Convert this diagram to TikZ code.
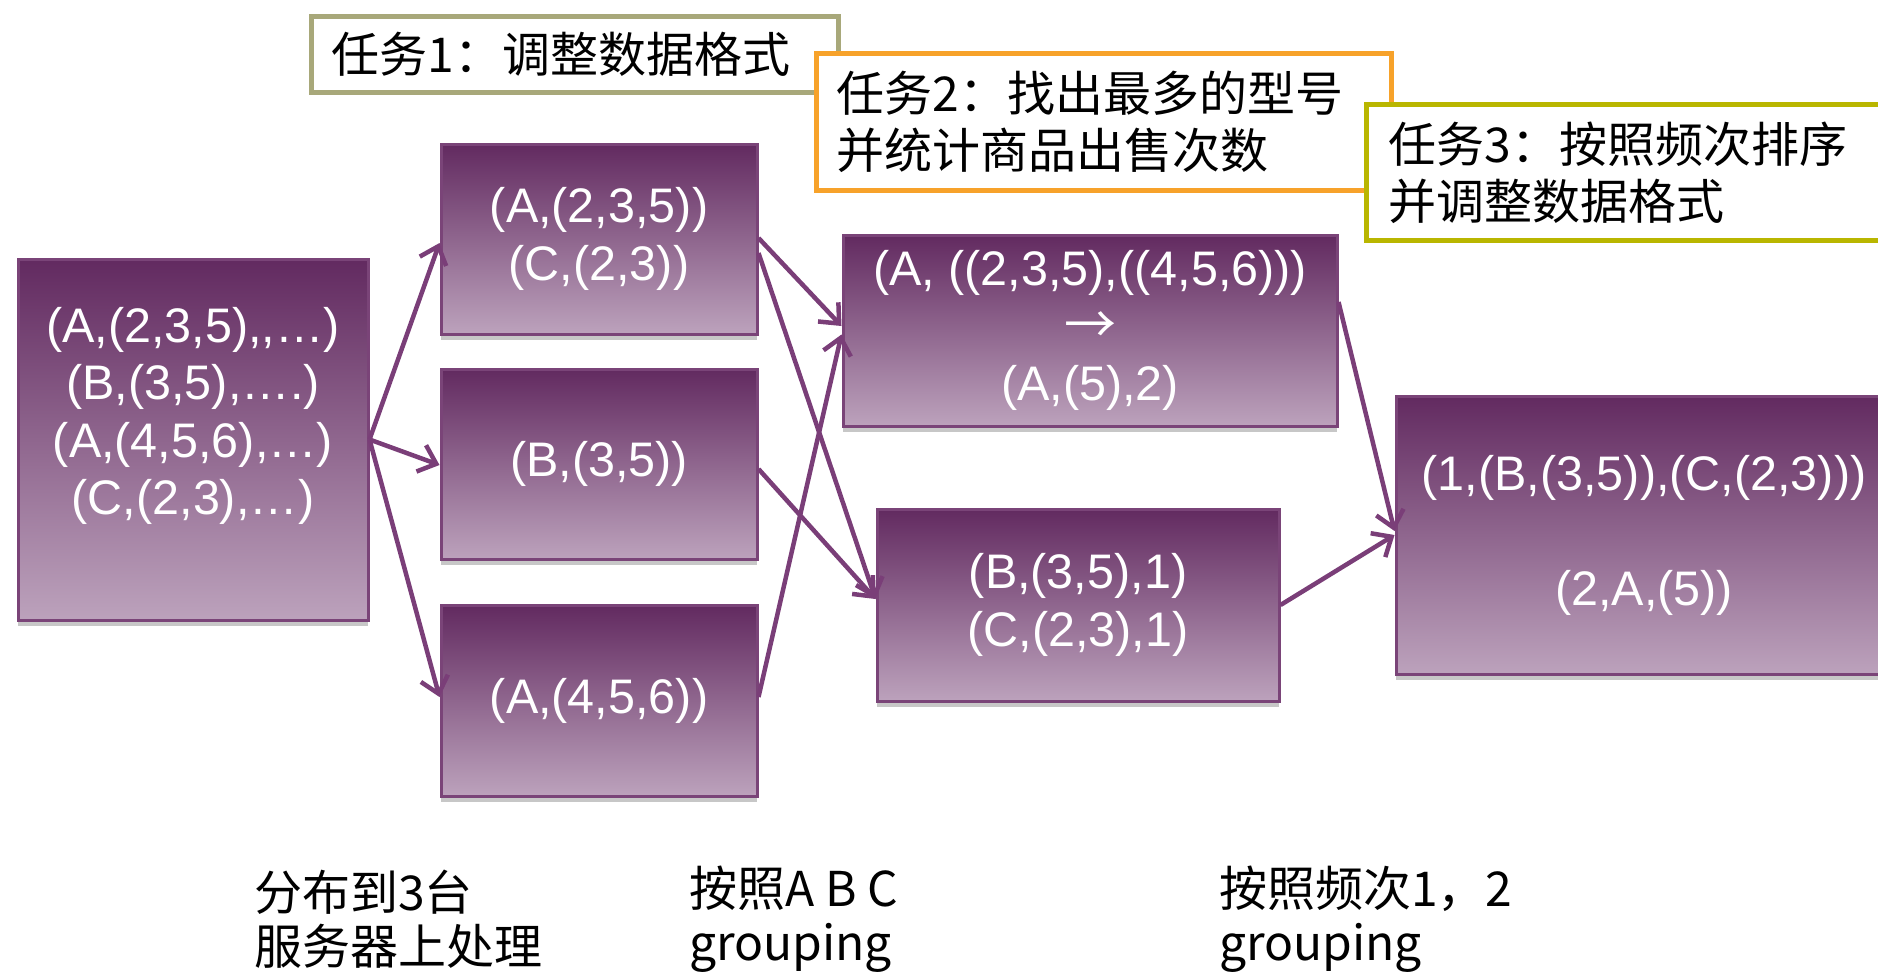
\documentclass[tikz,border=0pt]{standalone}
\usepackage{fontspec}
\setmainfont{Liberation Sans}
\newfontfamily\cjk{Noto Sans CJK SC}
\usetikzlibrary{arrows.meta,shadows}
\definecolor{boxtop}{RGB}{98,42,96}
\definecolor{boxbot}{RGB}{188,162,188}
\definecolor{boxline}{RGB}{122,68,120}
\definecolor{arrowc}{RGB}{122,62,120}
\definecolor{taskA}{RGB}{168,168,122}
\definecolor{taskB}{RGB}{247,162,42}
\definecolor{taskC}{RGB}{185,182,0}
\begin{document}
\begin{tikzpicture}[x=1pt,y=-1pt,
  databox/.style={rectangle, draw=boxline, line width=3pt, top color=boxtop, bottom color=boxbot,
    text=white, align=center, inner sep=0pt, font=\fontsize{48.5}{57.5}\selectfont,
    drop shadow={shadow xshift=0pt, shadow yshift=-6pt, opacity=0.22, fill=black}},
  flow/.style={draw=arrowc, line width=4.5pt, -{Straight Barb[length=16pt,width=28pt]}},
  taskbox/.style={rectangle, draw, line width=5pt, fill=white, align=left, inner xsep=20pt,
    inner ysep=0pt, anchor=north west, font=\cjk\fontsize{48}{57}\selectfont},
  note/.style={anchor=west, align=left, inner sep=0pt, font=\cjk\fontsize{48}{54}\selectfont}
]
\useasboundingbox (0,0) rectangle (1878,972);
\clip (0,0) rectangle (1878,972);

% task boxes
\node[taskbox, draw=taskA, minimum width=527pt, minimum height=76pt, text width=487pt] (t1) at (309,14) {任务1：调整数据格式};
\node[taskbox, draw=taskB, minimum width=575pt, minimum height=137pt, text width=535pt] (t2) at (814,51) {任务2：找出最多的型号\\并统计商品出售次数};
\node[taskbox, draw=taskC, minimum width=540pt, minimum height=136pt, text width=496pt, inner xsep=22pt] (t3) at (1364,102) {任务3：按照频次排序\\并调整数据格式};

% data boxes
\node[databox, minimum width=350pt, minimum height=361pt] (in) at (193,439.5)
  {(A,(2,3,5),{},…)\\(B,(3,5),….)\\(A,(4,5,6),…)\\(C,(2,3),…)\\\mbox{}};
\node[databox, minimum width=316pt, minimum height=190pt] (b1) at (599,239) {(A,(2,3,5))\\(C,(2,3))};
\node[databox, minimum width=316pt, minimum height=190pt] (b2) at (599,464) {(B,(3,5))};
\node[databox, minimum width=316pt, minimum height=191pt] (b3) at (599,700.5) {(A,(4,5,6))};
\node[databox, minimum width=494pt, minimum height=191pt] (ma) at (1090,330.5)
  {(A, ((2,3,5),((4,5,6)))\\{\cjk\fontsize{52}{57.5}\selectfont →}\\(A,(5),2)};
\node[databox, minimum width=402pt, minimum height=192pt] (mbc) at (1078,605) {(B,(3,5),1)\\(C,(2,3),1)};
\node[databox, minimum width=496pt, minimum height=278pt] (fin) at (1644,535)
  {(1,(B,(3,5)),(C,(2,3)))\\[57.5pt](2,A,(5))};

% connectors
\draw[flow] (in.east) -- ([yshift=-4pt]b1.west);
\draw[flow] (in.east) -- ([yshift=-1pt]b2.west);
\draw[flow] (in.east) -- ([yshift=3.5pt]b3.west);
\draw[flow] ([yshift=1pt]b1.east) -- ([yshift=4.5pt]ma.west);
\draw[flow] ([yshift=-14pt]b1.east) -- ([yshift=6pt]mbc.west);
\draw[flow] ([yshift=-5pt]b2.east) -- ([yshift=6pt]mbc.west);
\draw[flow] ([yshift=3.5pt]b3.east) -- ([yshift=-4pt]ma.west);
\draw[flow] ([yshift=28.5pt]ma.east) -- ([yshift=4pt]fin.west);
\draw[flow] (mbc.east) -- (fin.west);

% bottom labels
\node[note] (l1) at (254,919) {分布到3台\\服务器上处理};
\node[note] (l2) at (689,919) {按照A B C\\grouping};
\node[note] (l3) at (1219,919) {按照频次1，2\\grouping};
\end{tikzpicture}
\end{document}
